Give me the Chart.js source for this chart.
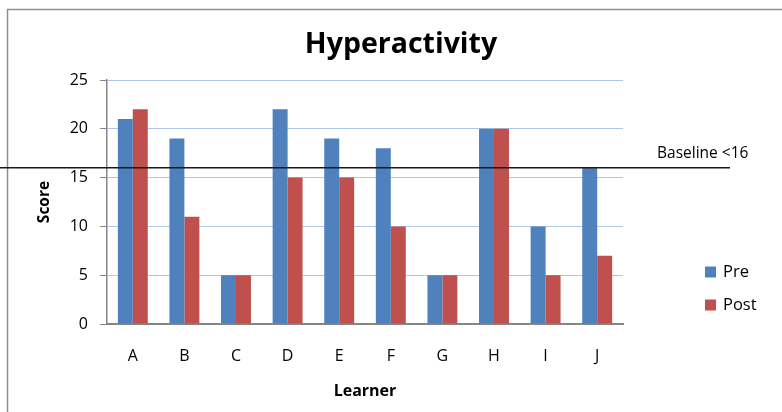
<!DOCTYPE html>
<html>
<head>
<meta charset="utf-8">
<script src="https://cdn.jsdelivr.net/npm/chart.js@4/dist/chart.umd.min.js"></script>
<style>
  html, body { margin: 0; padding: 0; background: #fff; }
  #wrap { width: 782px; height: 412px; }
</style>
</head>
<body>
<div id="wrap"><canvas id="hyperChart" width="782" height="412"></canvas></div>
<script>
var learners = ['A', 'B', 'C', 'D', 'E', 'F', 'G', 'H', 'I', 'J'];
var preScores = [21, 19, 5, 22, 19, 18, 5, 20, 10, 16];
var postScores = [22, 11, 5, 15, 15, 10, 5, 20, 5, 7];
var scoreTicks = [0, 5, 10, 15, 20, 25];
var baselineValue = 16;
var baselineLabel = 'Baseline <16';

var fontFamily = "'Open Sans', 'Liberation Sans', sans-serif";

// title, legend, baseline and outer frame drawn on top of the chart
var extras = {
  id: 'extras',
  beforeDraw: function(chart) {
    var ctx = chart.ctx;
    ctx.save();
    ctx.fillStyle = '#ffffff';
    ctx.fillRect(0, 0, chart.width, chart.height);
    ctx.strokeStyle = '#8e8e8e';
    ctx.lineWidth = 1.5;
    ctx.strokeRect(7.5, 9.5, 900, 900);
    ctx.restore();
  },
  afterDraw: function(chart) {
    var ctx = chart.ctx;
    var y = chart.scales.y.getPixelForValue(baselineValue);
    ctx.save();

    // baseline
    ctx.strokeStyle = '#1a1a1a';
    ctx.lineWidth = 1.5;
    ctx.beginPath();
    ctx.moveTo(0, y);
    ctx.lineTo(730, y);
    ctx.stroke();

    ctx.fillStyle = '#000';
    ctx.font = '15.5px ' + fontFamily;
    ctx.textBaseline = 'middle';
    ctx.textAlign = 'left';
    ctx.fillText(baselineLabel, 657, y - 14);

    // title
    ctx.font = 'bold 28.5px ' + fontFamily;
    ctx.textAlign = 'center';
    ctx.fillText('Hyperactivity', 401, 45);

    // legend
    ctx.font = '16.5px ' + fontFamily;
    ctx.textAlign = 'left';
    chart.data.datasets.forEach(function(ds, i) {
      var cy = 272 + i * 33;
      ctx.fillStyle = ds.backgroundColor;
      ctx.fillRect(705, cy - 5.5, 11, 11);
      ctx.fillStyle = '#000';
      ctx.fillText(ds.label, 723, cy);
    });
    ctx.restore();
  }
};

var ctx = document.getElementById('hyperChart');
var chart = new Chart(ctx, {
  type: 'bar',
  data: {
    labels: learners,
    datasets: [{
      label: 'Pre',
      data: preScores,
      backgroundColor: '#4F81BD',
      borderWidth: 0
    }, {
      label: 'Post',
      data: postScores,
      backgroundColor: '#C0504D',
      borderWidth: 0
    }]
  },
  options: {
    responsive: false,
    animation: false,
    layout: { padding: { top: 80, right: 159, left: 0, bottom: 0 } },
    categoryPercentage: 0.58,
    barPercentage: 1.0,
    plugins: {
      legend: { display: false },
      title: { display: false },
      tooltip: { enabled: false }
    },
    scales: {
      x: {
        grid: { display: false, drawTicks: false },
        border: { color: '#868686', width: 2 },
        ticks: { color: '#000', padding: 23, font: { family: fontFamily, size: 16 } },
        title: {
          display: true,
          text: 'Learner',
          color: '#000',
          font: { family: fontFamily, size: 16, weight: 'bold' },
          padding: { top: 0, bottom: 11 }
        },
        afterFit: function(scale) { scale.height = 88; }
      },
      y: {
        min: 0,
        max: 25,
        afterBuildTicks: function(scale) {
          scale.ticks = scoreTicks.map(function(v) { return { value: v }; });
        },
        grid: { color: '#ADC7E9', tickColor: '#868686', tickLength: 7, lineWidth: 1 },
        border: { color: '#868686', width: 1.5 },
        ticks: { color: '#000', padding: 12, font: { family: fontFamily, size: 16 } },
        title: {
          display: true,
          text: 'Score',
          color: '#000',
          font: { family: fontFamily, size: 15.5, weight: 'bold' },
          padding: { top: 35, bottom: 0 }
        },
        afterFit: function(scale) { scale.width = 107; }
      }
    }
  },
  plugins: [extras]
});
</script>
</body>
</html>
